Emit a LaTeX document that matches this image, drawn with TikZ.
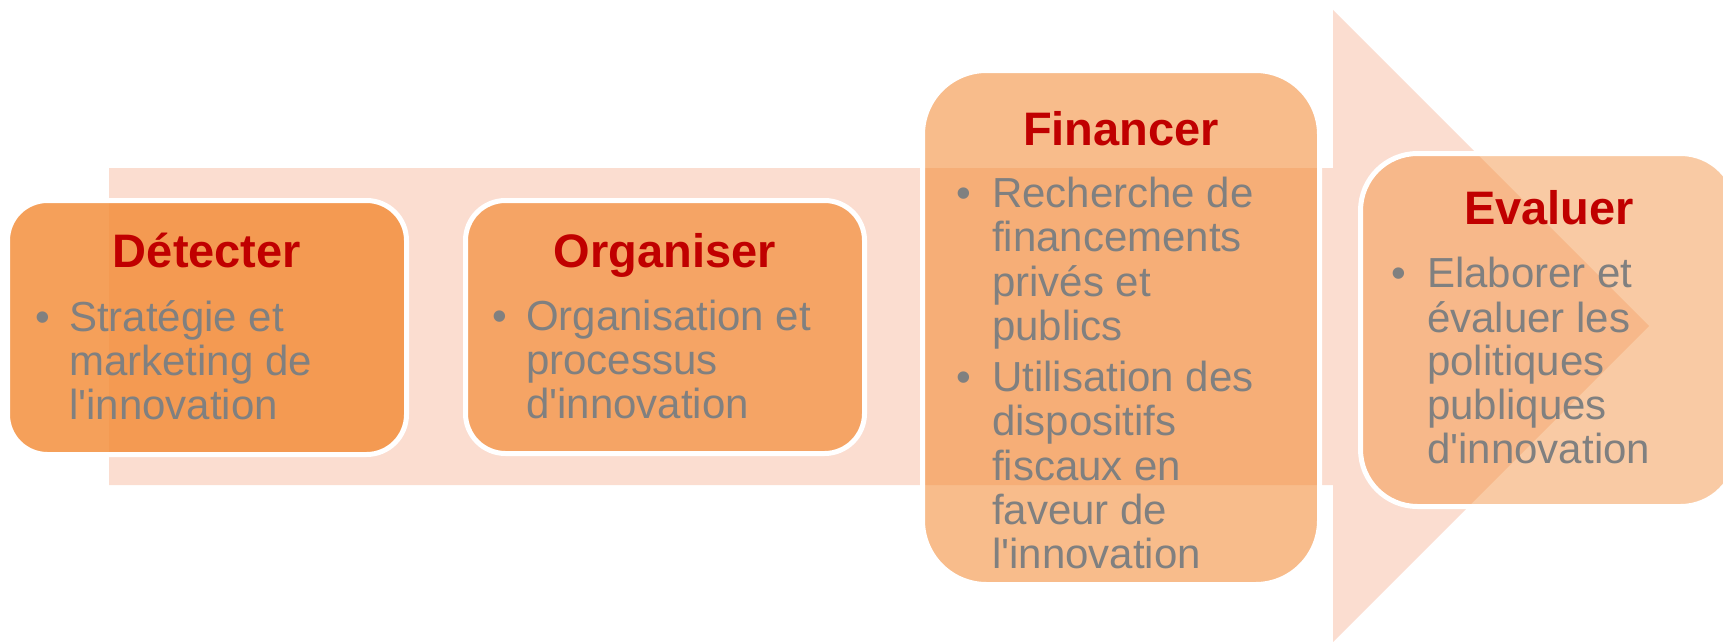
\documentclass[tikz,border=0pt]{standalone}
\usepackage{fontspec}
\newfontfamily\lsans{Liberation Sans}
\definecolor{peach}{RGB}{251,221,208}
\definecolor{boxor}{RGB}{243,143,61}
\definecolor{ttlred}{RGB}{192,0,0}
\definecolor{txtgray}{RGB}{128,128,128}
\newcommand\bodyfnt{\lsans\fontsize{42}{44}\selectfont}
\newcommand\ttlfnt{\lsans\bfseries\fontsize{47}{50}\selectfont}
\tikzset{
  box/.style={draw=white, line width=5pt, fill=boxor, draw opacity=1, inner sep=0pt},
  ttl/.style={anchor=base, inner sep=0pt, text=ttlred, font=\ttlfnt},
  bodyline/.style={anchor=base west, inner sep=0pt, text=txtgray, font=\bodyfnt},
  bul/.style={anchor=base west, inner sep=0pt, text=txtgray, font=\bodyfnt},
}
\begin{document}
\begin{tikzpicture}[x=1pt,y=-1pt]
\useasboundingbox (0,0) rectangle (1723,642);
\clip (0,0) rectangle (1723,642);
% background arrow
\fill[peach] (109,168) -- (1333,168) -- (1333,10) -- (1649,326) -- (1333,642) -- (1333,485) -- (109,485) -- cycle;
% boxes
\node[box, fill opacity=0.85, rounded corners=40pt, minimum width=399pt, minimum height=254pt] (det) at (207,327.5) {};
\node[box, fill opacity=0.72, rounded corners=40pt, minimum width=399pt, minimum height=253pt] (org) at (665,327) {};
\node[box, fill opacity=0.60, rounded corners=64pt, minimum width=397pt, minimum height=514pt] (fin) at (1121,327.5) {};
\node[box, fill opacity=0.47, rounded corners=57pt, minimum width=377pt, minimum height=353pt] (eva) at (1549,330) {};
% Detecter
\node[ttl] (detT) at (207,267) {Détecter};
\node[bul] (detB) at (35,331) {•};
\node[bodyline] (det1) at (69,331) {Stratégie et};
\node[bodyline] (det2) at (69,375) {marketing de};
\node[bodyline] (det3) at (69,419) {l'innovation};
% Organiser
\node[ttl] (orgT) at (665,267) {Organiser};
\node[bul] (orgB) at (492,330) {•};
\node[bodyline] (org1) at (526,330) {Organisation et};
\node[bodyline] (org2) at (526,374) {processus};
\node[bodyline] (org3) at (526,418) {d'innovation};
% Financer
\node[ttl] (finT) at (1121,145) {Financer};
\node[bul] (finB1) at (956,207) {•};
\node[bodyline] (fin1) at (992,207) {Recherche de};
\node[bodyline] (fin2) at (992,251) {financements};
\node[bodyline] (fin3) at (992,296) {privés et};
\node[bodyline] (fin4) at (992,340) {publics};
\node[bul] (finB2) at (956,391) {•};
\node[bodyline] (fin5) at (992,391) {Utilisation des};
\node[bodyline] (fin6) at (992,435) {dispositifs};
\node[bodyline] (fin7) at (992,480) {fiscaux en};
\node[bodyline] (fin8) at (992,524) {faveur de};
\node[bodyline] (fin9) at (992,568) {l'innovation};
% Evaluer
\node[ttl] (evaT) at (1549,224) {Evaluer};
\node[bul] (evaB) at (1391,287) {•};
\node[bodyline] (eva1) at (1427,287) {Elaborer et};
\node[bodyline] (eva2) at (1427,332) {évaluer les};
\node[bodyline] (eva3) at (1427,375) {politiques};
\node[bodyline] (eva4) at (1427,419) {publiques};
\node[bodyline] (eva5) at (1427,463) {d'innovation};
\end{tikzpicture}
\end{document}
